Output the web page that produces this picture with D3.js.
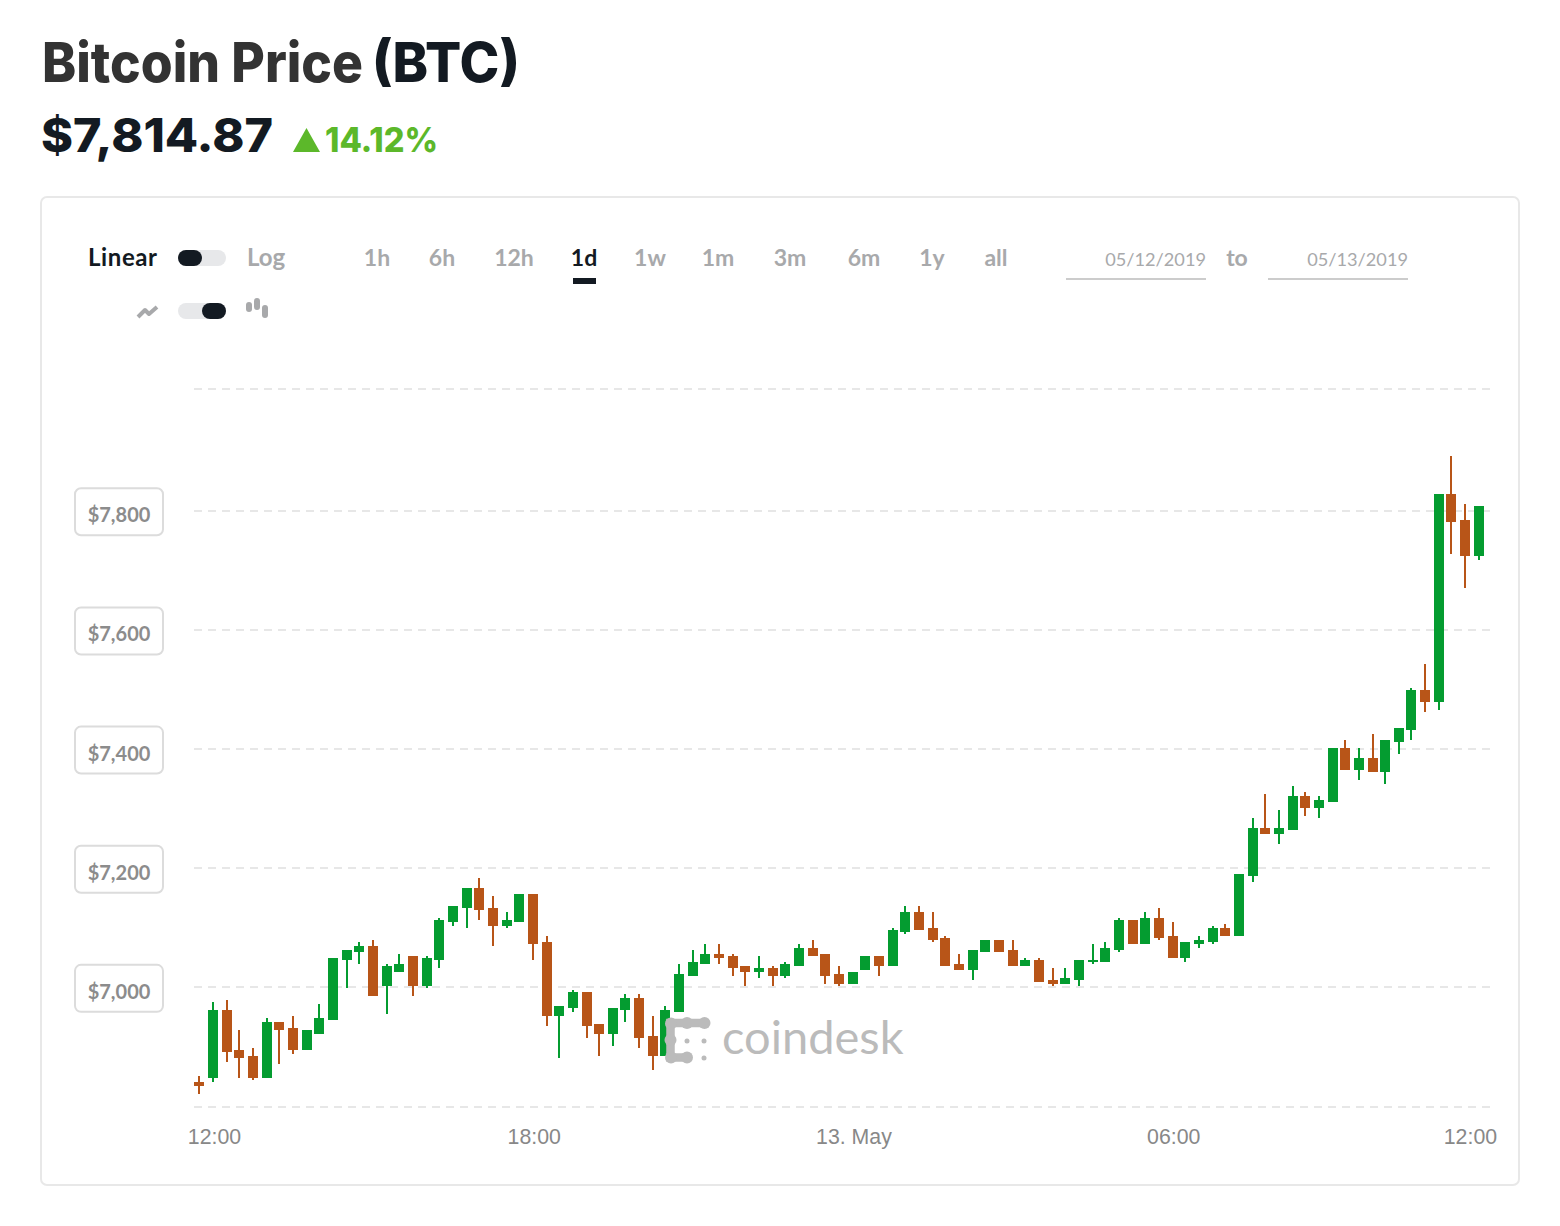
<!DOCTYPE html>
<html>
<head>
<meta charset="utf-8">
<script src="https://cdn.jsdelivr.net/npm/d3@7/dist/d3.min.js"></script>
<style>
    html, body { margin: 0; padding: 0; background: #fff; }
    svg { display: block; }
    text { font-family: Lato, sans-serif; }
    .axis-x text { font-family: "Liberation Sans", sans-serif; font-size: 21.3px; fill: #888; }
    .axis-y text { font-family: Lato, sans-serif; font-size: 20px; font-weight: 700; fill: #8c8c8c; }
</style>
</head>
<body>
<svg id="chart" width="1560" height="1226"></svg>
<script>
// 15 minute candles, first one at 11:45 on 12 May 2019
const startTime = Date.UTC(2019, 4, 12, 11, 45);
const stepMinutes = 15;

const openValues = [
    6841, 6848, 6962, 6895, 6885, 6848, 6942, 6932, 6895, 6922,
    6945, 7046, 7059, 7069, 7002, 7026, 7053, 7002, 7046, 7110,
    7133, 7167, 7133, 7103, 7110, 7157, 7076, 6952, 6965, 6992,
    6939, 6922, 6962, 6982, 6918, 6885, 6959, 7019, 7039, 7056,
    7053, 7036, 7026, 7033, 7019, 7036, 7066, 7056, 7022, 7006,
    7029, 7053, 7036, 7093, 7127, 7100, 7083, 7039, 7029, 7059,
    7080, 7063, 7036, 7046, 7012, 7006, 7012, 7043, 7043, 7063,
    7113, 7073, 7116, 7086, 7049, 7073, 7076, 7100, 7086, 7187,
    7268, 7257, 7264, 7321, 7301, 7311, 7402, 7365, 7385, 7362,
    7412, 7432, 7499, 7479, 7828, 7784, 7724
];
const highValues = [
    6851, 6975, 6979, 6928, 6898, 6949, 6942, 6952, 6928, 6972,
    7049, 7063, 7076, 7080, 7039, 7056, 7053, 7053, 7116, 7137,
    7167, 7184, 7153, 7127, 7157, 7157, 7086, 6969, 6996, 6992,
    6939, 6965, 6989, 6989, 6952, 6969, 7039, 7063, 7073, 7073,
    7056, 7036, 7053, 7036, 7043, 7073, 7080, 7056, 7036, 7026,
    7053, 7053, 7100, 7137, 7137, 7127, 7086, 7056, 7063, 7080,
    7080, 7080, 7049, 7049, 7033, 7033, 7046, 7073, 7076, 7116,
    7113, 7127, 7133, 7110, 7076, 7086, 7103, 7106, 7190, 7284,
    7325, 7298, 7338, 7328, 7321, 7402, 7415, 7402, 7425, 7415,
    7435, 7503, 7543, 7828, 7892, 7811, 7808
];
const lowValues = [
    6821, 6841, 6875, 6848, 6844, 6848, 6871, 6888, 6895, 6922,
    6945, 6999, 7039, 6985, 6955, 7026, 6985, 6999, 7033, 7103,
    7100, 7113, 7069, 7100, 7110, 7046, 6935, 6881, 6959, 6915,
    6885, 6902, 6942, 6898, 6861, 6885, 6959, 7019, 7039, 7039,
    7019, 7002, 7016, 7002, 7016, 7036, 7053, 7006, 7002, 7006,
    7029, 7019, 7036, 7090, 7096, 7076, 7036, 7029, 7012, 7059,
    7059, 7036, 7036, 7009, 7002, 7006, 7002, 7039, 7043, 7059,
    7073, 7073, 7080, 7049, 7043, 7066, 7073, 7086, 7086, 7177,
    7257, 7241, 7264, 7288, 7284, 7311, 7365, 7348, 7362, 7341,
    7392, 7415, 7462, 7466, 7727, 7670, 7717
];
const closeValues = [
    6834, 6962, 6891, 6881, 6848, 6942, 6928, 6895, 6928, 6949,
    7049, 7063, 7069, 6985, 7036, 7039, 7002, 7049, 7113, 7137,
    7167, 7130, 7103, 7113, 7157, 7073, 6952, 6969, 6992, 6935,
    6922, 6965, 6982, 6915, 6885, 6962, 7022, 7043, 7056, 7049,
    7033, 7026, 7033, 7019, 7039, 7066, 7053, 7019, 7006, 7026,
    7053, 7036, 7096, 7127, 7096, 7080, 7036, 7029, 7063, 7080,
    7059, 7036, 7046, 7009, 7006, 7016, 7046, 7046, 7066, 7113,
    7073, 7116, 7083, 7049, 7076, 7080, 7100, 7086, 7190, 7268,
    7257, 7268, 7321, 7301, 7315, 7402, 7365, 7385, 7362, 7415,
    7435, 7499, 7479, 7828, 7781, 7724, 7808
];

const labelPrices = [7000, 7200, 7400, 7600, 7800];
const gridPrices = [6800, 7000, 7200, 7400, 7600, 7800, 8005];
const timeTicks = [
    Date.UTC(2019, 4, 12, 12), Date.UTC(2019, 4, 12, 18), Date.UTC(2019, 4, 13, 0),
    Date.UTC(2019, 4, 13, 6), Date.UTC(2019, 4, 13, 12)
];
const timeTickLabels = ["12:00", "18:00", "13. May", "06:00", "12:00"];

const scaleButtons = [["1h", 377], ["6h", 442], ["12h", 514], ["1d", 584], ["1w", 650],
                      ["1m", 718], ["3m", 790], ["6m", 864], ["1y", 932], ["all", 996]];

const upColor = "#049c30";
const downColor = "#b85518";
const darkColor = "#131a22";
const greyColor = "#a8a9ab";

function drawHeader(svg) {
    const heading = (text, x, y, size, width, color) => svg.append("text")
        .attr("x", x)
        .attr("y", y)
        .attr("fill", color)
        .attr("textLength", width)
        .attr("lengthAdjust", "spacingAndGlyphs")
        .style("font-family", "Inter, sans-serif")
        .style("font-size", size + "px")
        .style("font-weight", 800)
        .text(text);

    heading("Bitcoin Price", 42, 82, 55, 321, "#333");
    heading("(BTC)", 372, 82, 55, 148, darkColor);
    heading("$7,814.87", 41, 152, 47, 232, darkColor);
    heading("14.12%", 325, 152, 34, 113, "#5cb82a");

    svg.append("path")
        .attr("d", "M293,152L306.5,128L320,152Z")
        .attr("fill", "#5cb82a");
}

function drawToggle(svg, y, knobOnRight) {
    svg.append("rect")
        .attr("x", 178).attr("y", y)
        .attr("width", 48).attr("height", 16)
        .attr("rx", 8)
        .attr("fill", "#e7e8ea");
    svg.append("rect")
        .attr("x", knobOnRight ? 202 : 178).attr("y", y)
        .attr("width", 24).attr("height", 16)
        .attr("rx", 8)
        .attr("fill", darkColor);
}

function drawControls(svg) {
    svg.append("rect")
        .attr("x", 41).attr("y", 197)
        .attr("width", 1478).attr("height", 988)
        .attr("rx", 6)
        .attr("fill", "#fff")
        .attr("stroke", "#e8e8e8")
        .attr("stroke-width", 2);

    const label = (text, x, anchor, color, size, weight) => svg.append("text")
        .attr("x", x)
        .attr("y", 266)
        .attr("text-anchor", anchor)
        .attr("fill", color)
        .style("font-size", size + "px")
        .style("font-weight", weight)
        .text(text);

    label("Linear", 88, "start", darkColor, 24, 700).style("letter-spacing", "0.6px");
    label("Log", 247, "start", greyColor, 24, 700);
    drawToggle(svg, 250, false);
    drawToggle(svg, 303, true);

    // line and candle icons next to the second toggle
    svg.append("path")
        .attr("d", "M138,317L145,310L149,314L157,307")
        .attr("fill", "none")
        .attr("stroke", greyColor)
        .attr("stroke-width", 4)
        .attr("stroke-linejoin", "round");
    svg.selectAll(".icon-bar")
        .data([[246, 302, 10], [254, 298, 12], [262, 305, 13]])
        .enter()
        .append("rect")
        .attr("class", "icon-bar")
        .attr("x", d => d[0]).attr("y", d => d[1])
        .attr("width", 6).attr("height", d => d[2])
        .attr("rx", 3)
        .attr("fill", greyColor);

    scaleButtons.forEach(d => {
        label(d[0], d[1], "middle", d[0] === "1d" ? darkColor : greyColor, 23, 700);
    });
    svg.append("rect")
        .attr("x", 573).attr("y", 278)
        .attr("width", 23).attr("height", 6)
        .attr("fill", darkColor);

    label("05/12/2019", 1206, "end", greyColor, 18.2, 400);
    label("to", 1237, "middle", greyColor, 23, 700);
    label("05/13/2019", 1408, "end", greyColor, 18.2, 400);
    [1066, 1268].forEach(x => {
        svg.append("rect")
            .attr("x", x).attr("y", 278)
            .attr("width", 140).attr("height", 2)
            .attr("fill", "#ccc");
    });
}

function createAxis(svg, scaleX, scaleY) {
    // gridlines, the top and bottom ones have no label
    const grid = svg.append("g")
        .attr("transform", "translate(194, -0.5)")
        .call(d3.axisLeft(scaleY)
            .tickValues(gridPrices)
            .tickSize(-1296)
            .tickFormat(""));
    grid.select(".domain").remove();
    grid.selectAll("line")
        .attr("stroke", "#e7e7e7")
        .attr("stroke-width", 2)
        .attr("stroke-dasharray", "8.4,5.6")
        .attr("shape-rendering", "crispEdges");

    const axisY = svg.append("g")
        .attr("class", "axis-y")
        .attr("transform", "translate(119, 0)")
        .call(d3.axisLeft(scaleY)
            .tickValues(labelPrices)
            .tickSize(0)
            .tickPadding(0)
            .tickFormat(d3.format("$,")));
    axisY.select(".domain").remove();
    axisY.selectAll("text")
        .attr("x", 0)
        .attr("y", 4)
        .attr("dy", "0.35em")
        .attr("text-anchor", "middle");
    axisY.selectAll(".tick")
        .insert("rect", "text")
        .attr("x", -44).attr("y", -23)
        .attr("width", 88).attr("height", 47)
        .attr("rx", 6)
        .attr("fill", "#fff")
        .attr("stroke", "#dcdcdc")
        .attr("stroke-width", 2);

    const axisX = svg.append("g")
        .attr("class", "axis-x")
        .attr("transform", "translate(1, 1107)")
        .call(d3.axisBottom(scaleX)
            .tickValues(timeTicks)
            .tickSize(0)
            .tickPadding(0)
            .tickFormat((d, i) => timeTickLabels[i]));
    axisX.select(".domain").remove();
    axisX.selectAll("text")
        .attr("y", 37)
        .attr("dy", 0);
    // last label is pulled back inside the card
    axisX.selectAll(".tick:last-of-type text").attr("x", -23);
}

function createCandleChart(svg, candles, scaleX, scaleY) {
    // candles sit on a 2px grid in the original
    const snapX = x => 2 * Math.round((x - 1) / 2) + 1;
    const snapY = y => 2 * Math.round(y / 2);
    const color = d => d.close >= d.open ? upColor : downColor;

    const g = svg.append("g").attr("shape-rendering", "crispEdges");

    g.selectAll(".wick")
        .data(candles)
        .enter()
        .append("rect")
        .attr("class", "wick")
        .attr("x", d => snapX(scaleX(d.time)) - 1)
        .attr("y", d => snapY(scaleY(d.high)))
        .attr("width", 2)
        .attr("height", d => snapY(scaleY(d.low)) - snapY(scaleY(d.high)))
        .attr("fill", color);

    g.selectAll(".body")
        .data(candles)
        .enter()
        .append("rect")
        .attr("class", "body")
        .attr("x", d => snapX(scaleX(d.time)) - 5)
        .attr("y", d => snapY(scaleY(Math.max(d.open, d.close))))
        .attr("width", 10)
        .attr("height", d => snapY(scaleY(Math.min(d.open, d.close))) - snapY(scaleY(Math.max(d.open, d.close))))
        .attr("fill", color);
}

function drawWatermark(svg) {
    const g = svg.append("g").attr("fill", "#bbb");

    // the logo is a chain of blobs with thinner necks between them
    g.append("path")
        .attr("d", "M705,1023H670.5V1057.5H687")
        .attr("fill", "none")
        .attr("stroke", "#bbb")
        .attr("stroke-width", 8.5);

    g.selectAll(".blob")
        .data([[704.5, 1023], [687, 1023], [671, 1023.5], [670.5, 1040], [671, 1057.5], [687, 1057.5]])
        .enter()
        .append("circle")
        .attr("class", "blob")
        .attr("cx", d => d[0]).attr("cy", d => d[1])
        .attr("r", 6);

    g.selectAll(".dot")
        .data([[687, 1041], [704, 1041], [704, 1058]])
        .enter()
        .append("circle")
        .attr("class", "dot")
        .attr("cx", d => d[0]).attr("cy", d => d[1])
        .attr("r", 2.5);

    g.append("text")
        .attr("x", 722)
        .attr("y", 1054)
        .style("font-family", "Lato, sans-serif")
        .style("font-size", "47px")
        .text("coindesk");
}

function drawChart() {
    const svg = d3.select("svg#chart");

    const candles = openValues.map((open, i) => ({
        time: startTime + i * stepMinutes * 60000,
        open: open,
        high: highValues[i],
        low: lowValues[i],
        close: closeValues[i]
    }));

    const scaleX = d3.scaleUtc()
        .domain([candles[0].time, candles[candles.length - 1].time])
        .range([199.68, 1478.59]);
    const scaleY = d3.scaleLinear()
        .domain([6800, 8005])
        .range([1106.5, 388.7]);

    drawHeader(svg);
    drawControls(svg);
    createAxis(svg, scaleX, scaleY);
    createCandleChart(svg, candles, scaleX, scaleY);
    drawWatermark(svg);
}

drawChart();
</script>
</body>
</html>
